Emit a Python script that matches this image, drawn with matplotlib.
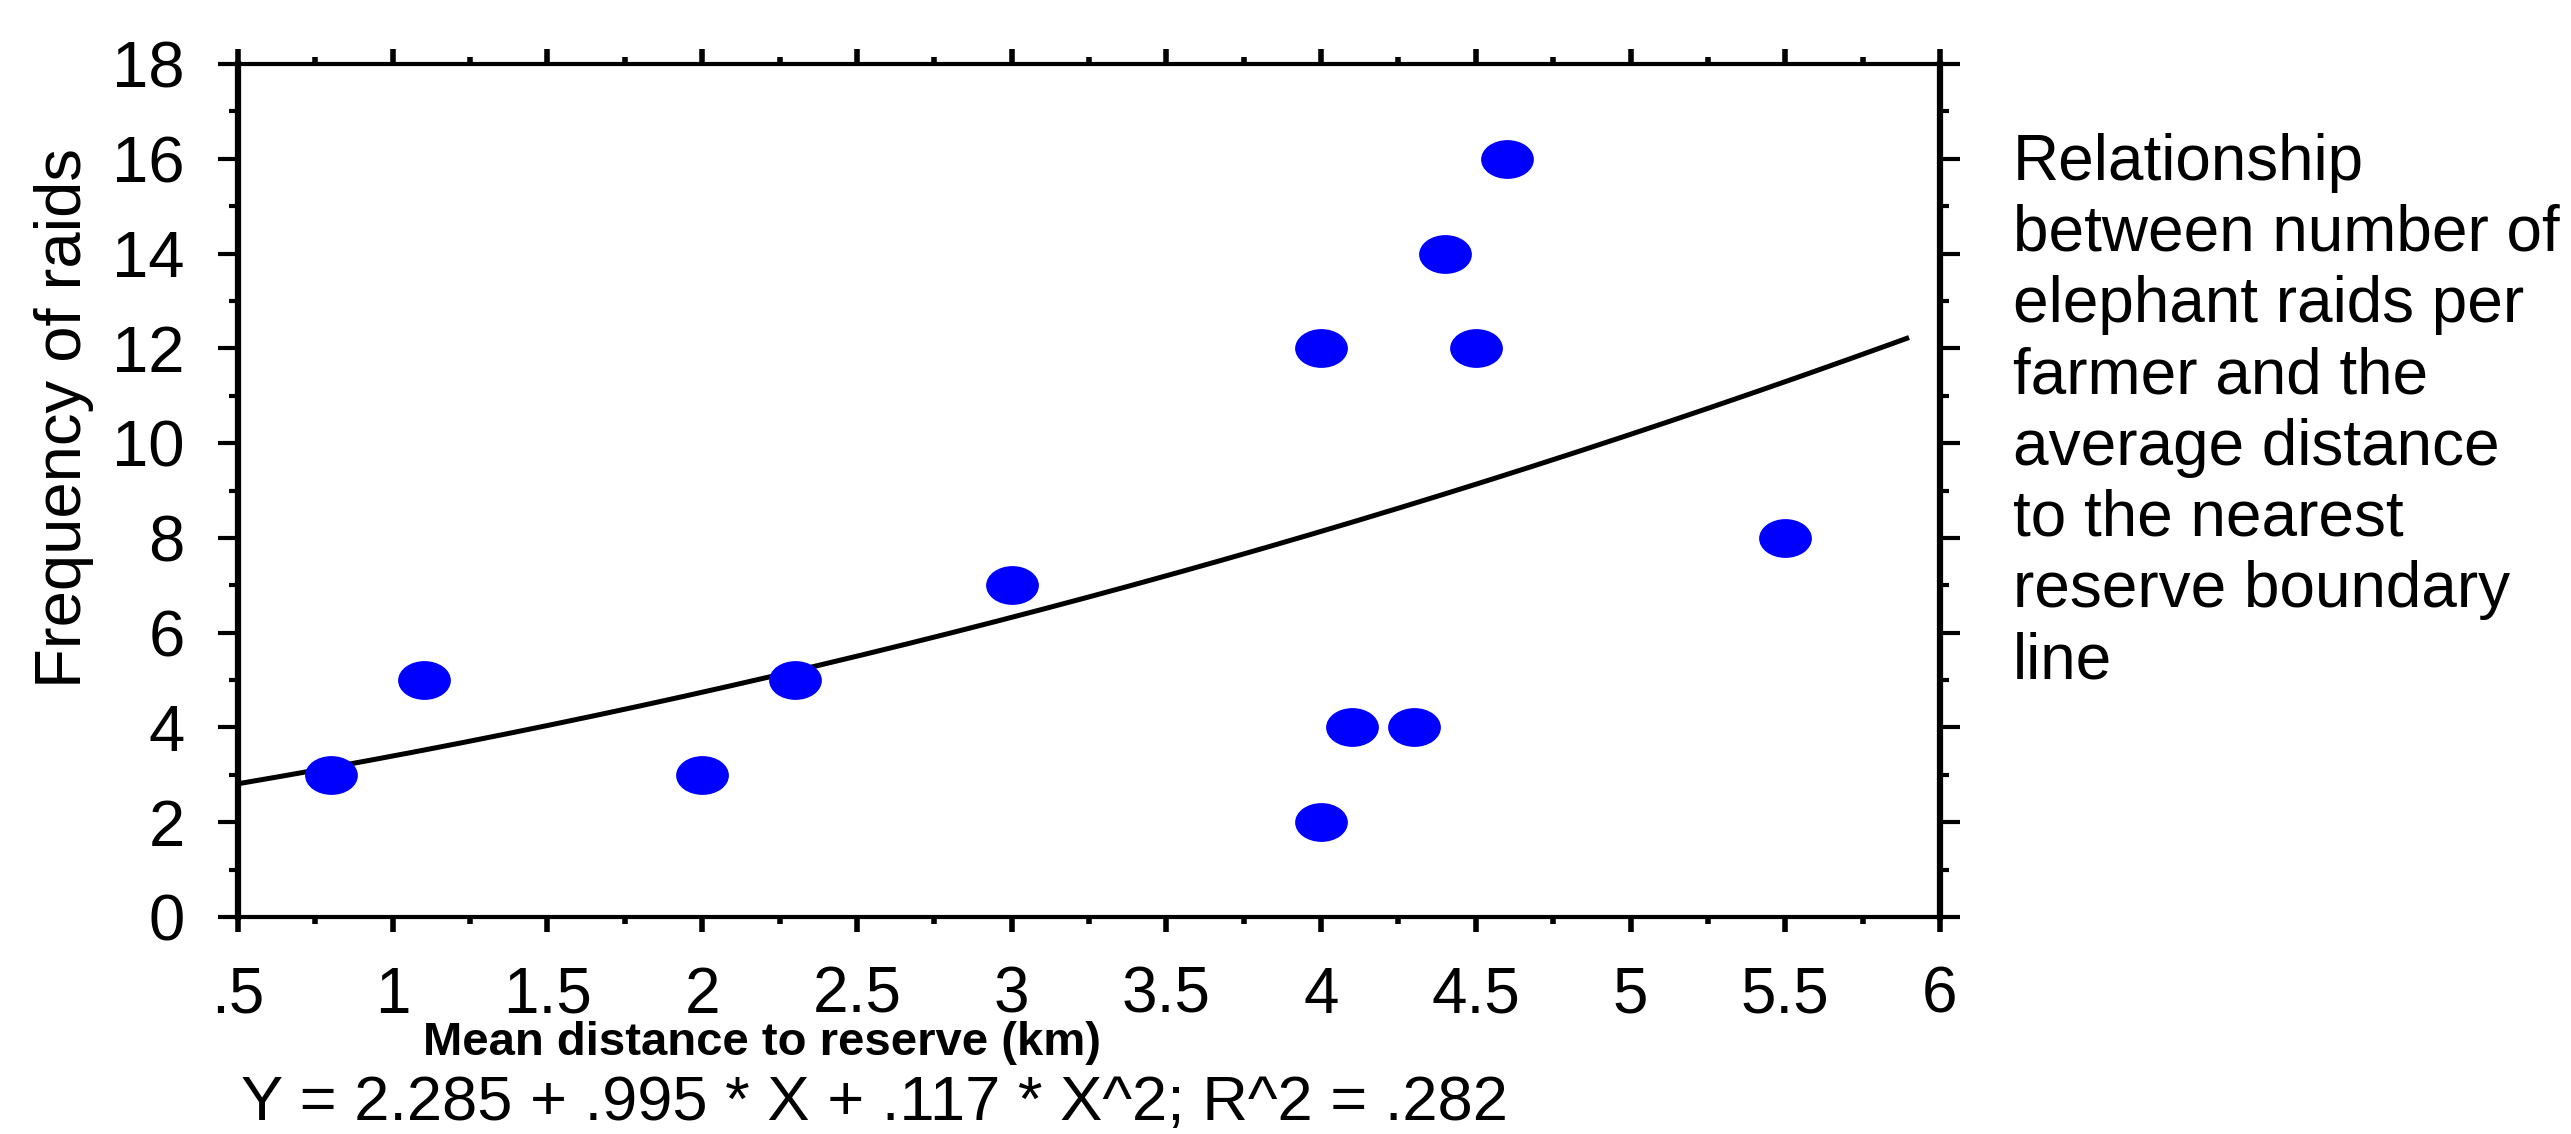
import numpy as np
import matplotlib
matplotlib.use("Agg")
import matplotlib.pyplot as plt
from matplotlib.path import Path
from matplotlib.transforms import Affine2D

# ---- data ----
distance_km = [0.8, 1.1, 2.0, 2.3, 3.0, 4.0, 4.0, 4.1, 4.3, 4.4, 4.5, 4.6, 5.5]
raids = [3, 5, 3, 5, 7, 12, 2, 4, 4, 14, 12, 16, 8]
fit_coef = [2.285, 0.995, 0.117]        # Y = a + b*X + c*X^2 (from the chart's equation)
fit_range = [0.5, 5.9]
x_ticks = [0.5, 1, 1.5, 2, 2.5, 3, 3.5, 4, 4.5, 5, 5.5, 6]
x_tick_labels = [".5", "1", "1.5", "2", "2.5", "3", "3.5", "4", "4.5", "5", "5.5", "6"]
y_ticks = [0, 2, 4, 6, 8, 10, 12, 14, 16, 18]
y_tick_labels = [str(v) for v in y_ticks]
equation_text = "Y = 2.285 + .995 * X + .117 * X^2; R^2 = .282"
side_text = ("Relationship\nbetween number of\nelephant raids per\nfarmer and the\n"
             "average distance\nto the nearest\nreserve boundary\nline")

plt.rcParams["font.family"] = ["Liberation Sans", "DejaVu Sans"]

W, H = 2571, 1134
fig = plt.figure(figsize=(W / 100, H / 100), dpi=100)
L, R, T, B = 238, 1940, 64, 917
ax = fig.add_axes([L / W, 1 - B / H, (R - L) / W, (B - T) / H])

# fitted curve
xs = np.linspace(fit_range[0], fit_range[1], 300)
ys = fit_coef[0] + fit_coef[1] * xs + fit_coef[2] * xs ** 2
ax.plot(xs, ys, color="black", lw=3.6, zorder=2, solid_capstyle="butt")

# ellipse markers (wider than tall, as in the reference)
ell = Affine2D().scale(1.36, 1.0).transform_path(Path.unit_circle())
ax.plot(distance_km, raids, linestyle="none", marker=ell, markersize=38,
        markerfacecolor="#0000ff", markeredgecolor="#0000ff", markeredgewidth=0,
        zorder=3, clip_on=False)

ax.set_xlim(0.5, 6)
ax.set_ylim(0, 18)
ax.set_xticks(x_ticks)
ax.set_xticklabels(x_tick_labels)
ax.set_xticks([v + 0.25 for v in x_ticks[:-1]], minor=True)
ax.set_yticks(y_ticks)
ax.set_yticklabels(y_tick_labels)
ax.set_yticks([v + 1 for v in y_ticks[:-1]], minor=True)

for s in ["left", "right"]:
    ax.spines[s].set_linewidth(4.5)
for s in ["top", "bottom"]:
    ax.spines[s].set_linewidth(3.0)

ax.tick_params(axis="x", which="major", direction="out", length=11, width=4,
               top=True, bottom=True, labelsize=46, pad=24, colors="black")
ax.tick_params(axis="x", which="minor", direction="out", length=5, width=4,
               top=True, bottom=True)
ax.tick_params(axis="y", which="major", direction="out", length=14.5, width=3,
               left=True, right=True, labelsize=47, pad=24)
ax.tick_params(axis="y", which="minor", direction="out", length=6.5, width=3,
               left=True, right=True)

# axis titles and annotation text
fig.text(64 / W, 1 - 418 / H, "Frequency of raids", rotation=90,
         ha="center", va="center", fontsize=47)
fig.text(762 / W, 1 - 1043 / H, "Mean distance to reserve (km)",
         ha="center", va="center", fontsize=34, fontweight="bold")
fig.text(241 / W, 1 - 1120 / H, equation_text, ha="left", va="baseline",
         fontsize=45.5)
fig.text(2013 / W, 1 - 412 / H, side_text, ha="left", va="center",
         fontsize=46, linespacing=1.24)

fig.savefig("out.png", dpi=100, facecolor="white")
